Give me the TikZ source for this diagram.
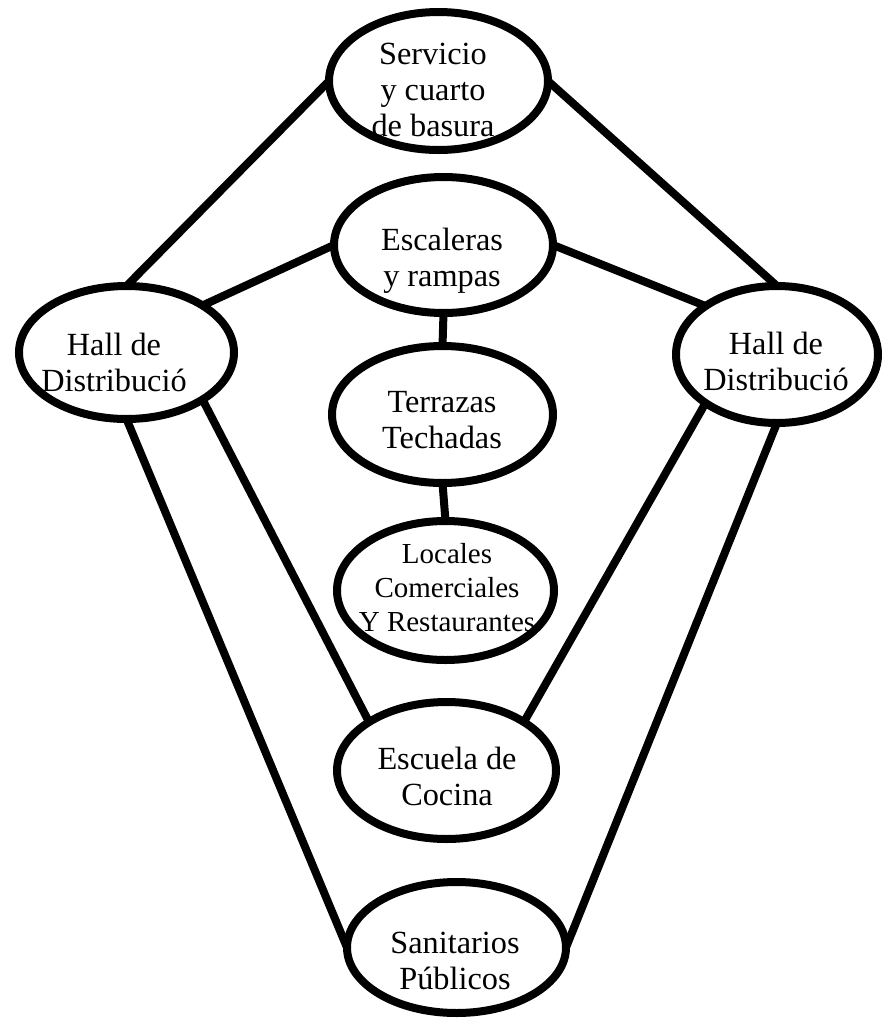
\documentclass[tikz,border=0pt]{standalone}
\usepackage{fontspec}
\setmainfont{Liberation Serif}
\usetikzlibrary{shapes.geometric}
\newcommand\ovlines[1]{\vtop{\halign{\hfil##\hfil\cr#1\crcr}}}
\begin{document}
\begin{tikzpicture}[x=1pt,y=-1pt,
  oval/.style={ellipse, draw, line width=8pt, inner sep=0pt, outer sep=0pt},
  conn/.style={line width=8pt},
  lbl/.style={anchor=base, inner sep=0pt, font=\fontsize{32.3}{36}\selectfont},
  lblsmall/.style={anchor=base, inner sep=0pt, font=\fontsize{29}{34}\selectfont}]
\fill[white] (0,0) rectangle (882,1021);
\useasboundingbox (0,0) rectangle (882,1021);

% ovals
\node[oval, minimum width=219pt, minimum height=138pt] (serv) at (438.5,81) {};
\node[oval, minimum width=219pt, minimum height=136pt] (esc) at (443.5,245) {};
\node[oval, minimum width=215pt, minimum height=133pt] (hallL) at (126.5,352.5) {};
\node[oval, minimum width=202pt, minimum height=137pt] (hallR) at (777,354.5) {};
\node[oval, minimum width=221pt, minimum height=137pt] (terr) at (442.5,414.5) {};
\node[oval, minimum width=217pt, minimum height=139pt] (loc) at (445.5,590.5) {};
\node[oval, minimum width=219pt, minimum height=137pt] (escu) at (446.5,770.5) {};
\node[oval, minimum width=219pt, minimum height=131pt] (san) at (456.5,947.5) {};

% texts
\node[lbl] (servT) at (433,64) {\ovlines{Servicio\cr y cuarto\cr de basura}};
\node[lbl] (escT) at (442,250) {\ovlines{Escaleras\cr y rampas}};
\node[lbl] (hallLT) at (114,355) {\ovlines{Hall de\cr Distribució}};
\node[lbl] (hallRT) at (776,354) {\ovlines{Hall de\cr Distribució}};
\node[lbl] (terrT) at (442,412) {\ovlines{Terrazas\cr Techadas}};
\node[lblsmall] (locT) at (447,563) {\ovlines{Locales\cr Comerciales\cr Y Restaurantes}};
\node[lbl] (escuT) at (447,769) {\ovlines{Escuela de\cr Cocina}};
\node[lbl] (sanT) at (455,953) {\ovlines{Sanitarios\cr Públicos}};

% connectors
\draw[conn] (serv.west) -- (hallL.north);
\draw[conn] (serv.east) -- (hallR.north);
\draw[conn] (esc.west) -- (hallL.north east);
\draw[conn] (esc.east) -- (hallR.north west);
\draw[conn] (esc.south) -- (terr.north);
\draw[conn] (terr.south) -- (loc.north);
\draw[conn] (hallL.south east) -- (escu.north west);
\draw[conn] (hallL.south) -- (san.west);
\draw[conn] (hallR.south west) -- (escu.north east);
\draw[conn] (hallR.south) -- (san.east);
\end{tikzpicture}
\end{document}
